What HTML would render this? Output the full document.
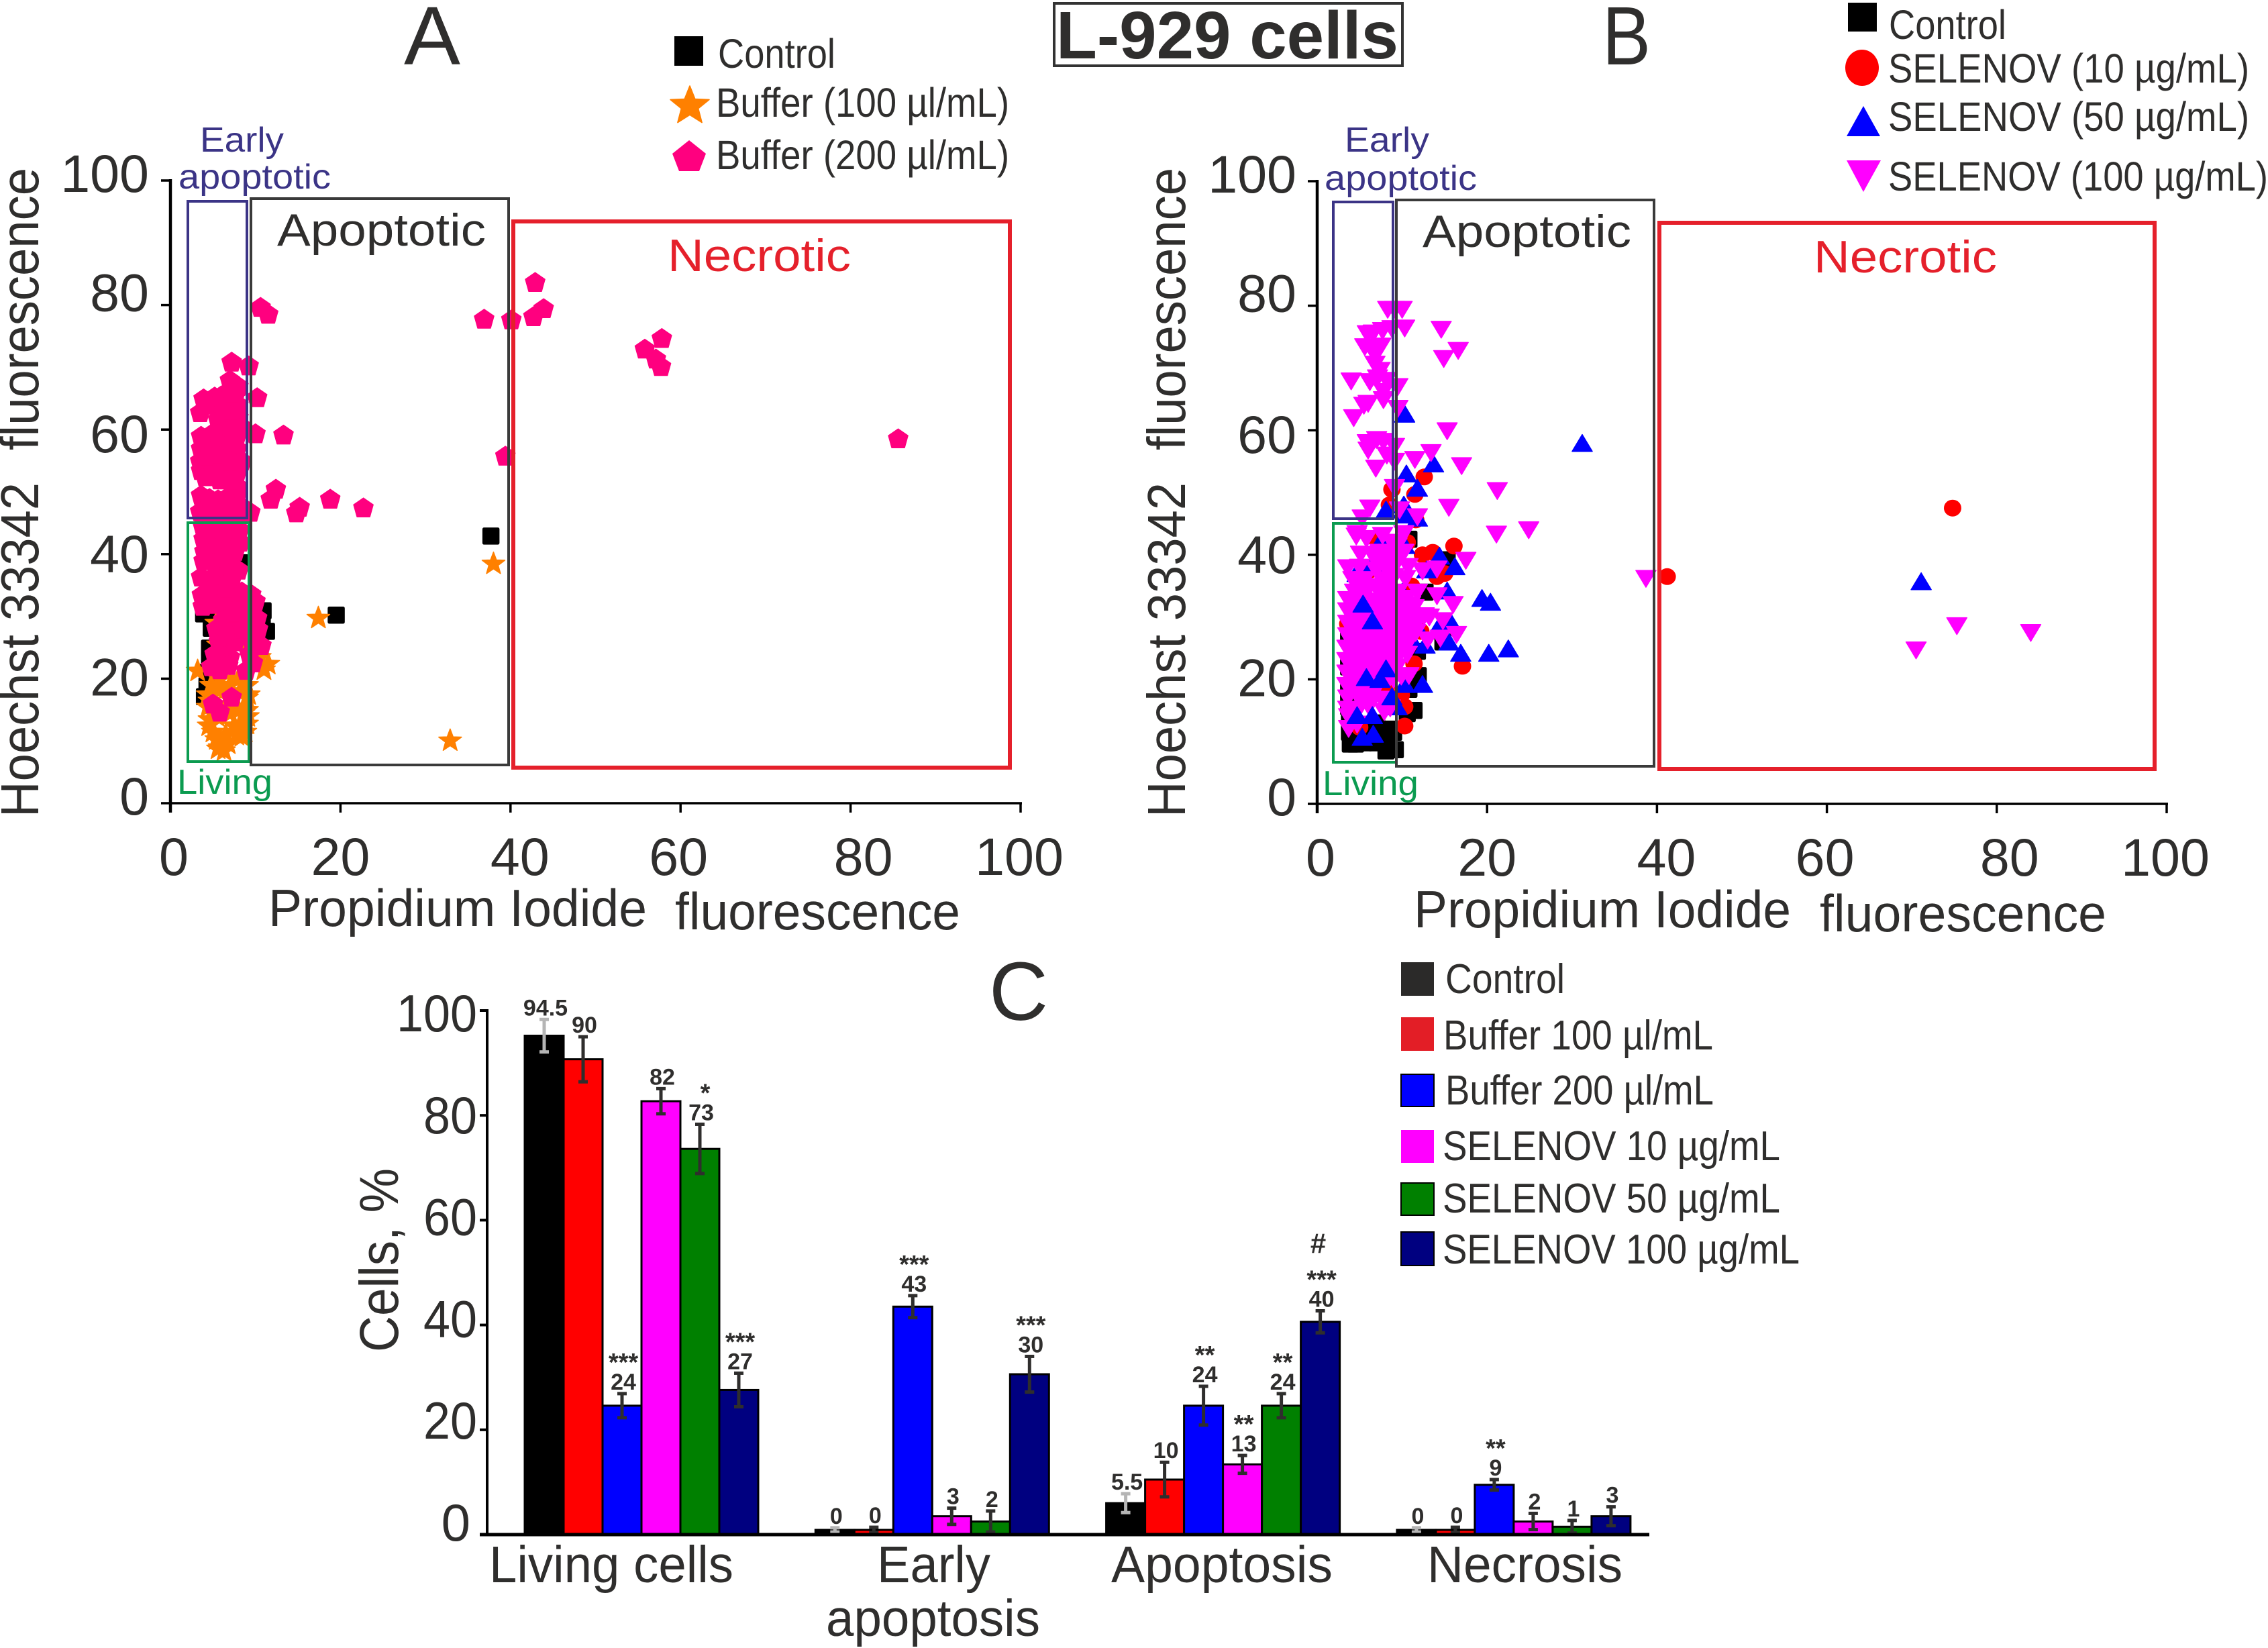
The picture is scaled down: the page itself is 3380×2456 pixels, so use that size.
<!DOCTYPE html>
<html lang="en">
<head>
<meta charset="utf-8">
<title>L-929 cells apoptosis charts</title>
<style>
html,body{margin:0;padding:0;background:#fff}
svg{display:block;font-family:"Liberation Sans",Arial,sans-serif}
text{fill:#2f2e2d}
</style>
</head>
<body>
<svg id="figure" xmlns="http://www.w3.org/2000/svg" width="3380" height="2456" viewBox="0 0 3380 2456">
<rect width="3380" height="2456" fill="#fff"/>
<g id="marksA"></g>
<g id="marksB"></g>

<!-- Gates chart A -->
<rect x="280" y="300" width="88" height="472" fill="none" stroke="#3b3486" stroke-width="4"/>
<rect x="280" y="779" width="91" height="356" fill="none" stroke="#0b9b50" stroke-width="4"/>
<rect x="374" y="296" width="384" height="844" fill="none" stroke="#3a3a3a" stroke-width="4"/>
<rect x="765" y="330" width="740" height="814" fill="none" stroke="#e5202b" stroke-width="6"/>
<!-- Gates chart B -->
<rect x="1987" y="301" width="89" height="472" fill="none" stroke="#3b3486" stroke-width="4"/>
<rect x="1987" y="780" width="94" height="356" fill="none" stroke="#0b9b50" stroke-width="4"/>
<rect x="2081" y="298" width="384" height="844" fill="none" stroke="#3a3a3a" stroke-width="4"/>
<rect x="2473" y="332" width="738" height="814" fill="none" stroke="#e5202b" stroke-width="6"/>

<g id="axesA"></g>
<g id="axesB"></g>
<g id="barsC"></g>
<g id="axesC"></g>

<!-- Titles -->
<text x="602" y="96" font-size="123" textLength="84" lengthAdjust="spacingAndGlyphs">A</text>
<text x="2388" y="96" font-size="123" textLength="72" lengthAdjust="spacingAndGlyphs">B</text>
<text x="1474" y="1520" font-size="123" textLength="88" lengthAdjust="spacingAndGlyphs">C</text>
<rect x="1571" y="5" width="519" height="93" fill="none" stroke="#333" stroke-width="4"/>
<text x="1574" y="87" font-size="100" font-weight="bold" textLength="510" lengthAdjust="spacingAndGlyphs">L-929 cells</text>

<!-- Legend A -->
<rect x="1005" y="54" width="43" height="44" fill="#000"/>
<text x="1070" y="101" font-size="61" textLength="175" lengthAdjust="spacingAndGlyphs">Control</text>
<path transform="translate(1028,157) scale(1.7)" d="M0,-17 L4.6,-5.5 L17,-5 L7.4,2.8 L10.6,15 L0,8.3 L-10.6,15 L-7.4,2.8 L-17,-5 L-4.6,-5.5 Z" fill="#ff8000" stroke="#ff8000" stroke-width="1" stroke-linejoin="round"/>
<text x="1067" y="174" font-size="61" textLength="437" lengthAdjust="spacingAndGlyphs">Buffer (100 µl/mL)</text>
<path transform="translate(1027,232)" d="M0,-23 L25,-3 L15,23 L-15,23 L-25,-3 Z" fill="#ff007f"/>
<text x="1067" y="252" font-size="61" textLength="437" lengthAdjust="spacingAndGlyphs">Buffer (200 µl/mL)</text>

<!-- Legend B -->
<rect x="2754" y="4" width="43" height="43" fill="#000"/>
<text x="2815" y="58" font-size="61" textLength="175" lengthAdjust="spacingAndGlyphs">Control</text>
<ellipse cx="2775" cy="101" rx="25" ry="27" fill="#f00"/>
<text x="2814" y="123" font-size="61" textLength="538" lengthAdjust="spacingAndGlyphs">SELENOV (10 µg/mL)</text>
<path d="M2777,158 L2802,203 L2752,203 Z" fill="#00f"/>
<text x="2814" y="195" font-size="61" textLength="538" lengthAdjust="spacingAndGlyphs">SELENOV (50 µg/mL)</text>
<path d="M2752,239 L2803,239 L2777,286 Z" fill="#f0f"/>
<text x="2814" y="284" font-size="61" textLength="566" lengthAdjust="spacingAndGlyphs">SELENOV (100 µg/mL)</text>

<!-- Gate labels A -->
<text x="298" y="226" font-size="52" style="fill:#3b3486" textLength="125" lengthAdjust="spacingAndGlyphs">Early</text>
<text x="266" y="281" font-size="52" style="fill:#3b3486" textLength="227" lengthAdjust="spacingAndGlyphs">apoptotic</text>
<text x="413" y="366" font-size="68" textLength="311" lengthAdjust="spacingAndGlyphs">Apoptotic</text>
<text x="995" y="404" font-size="68" style="fill:#e5202b" textLength="273" lengthAdjust="spacingAndGlyphs">Necrotic</text>
<text x="264" y="1183" font-size="52" style="fill:#0b9b50" textLength="142" lengthAdjust="spacingAndGlyphs">Living</text>
<!-- Gate labels B -->
<text x="2004" y="226" font-size="52" style="fill:#3b3486" textLength="126" lengthAdjust="spacingAndGlyphs">Early</text>
<text x="1974" y="283" font-size="52" style="fill:#3b3486" textLength="227" lengthAdjust="spacingAndGlyphs">apoptotic</text>
<text x="2120" y="368" font-size="68" textLength="311" lengthAdjust="spacingAndGlyphs">Apoptotic</text>
<text x="2703" y="406" font-size="68" style="fill:#e5202b" textLength="273" lengthAdjust="spacingAndGlyphs">Necrotic</text>
<text x="1971" y="1185" font-size="52" style="fill:#0b9b50" textLength="143" lengthAdjust="spacingAndGlyphs">Living</text>

<!-- Axis titles -->
<text transform="translate(57,1218) rotate(-90)" font-size="80" textLength="499" lengthAdjust="spacingAndGlyphs">Hoechst 33342</text>
<text transform="translate(57,671) rotate(-90)" font-size="80" textLength="421" lengthAdjust="spacingAndGlyphs">fluorescence</text>
<text x="400" y="1380" font-size="78" textLength="564" lengthAdjust="spacingAndGlyphs">Propidium Iodide</text>
<text x="1006" y="1385" font-size="78" textLength="425" lengthAdjust="spacingAndGlyphs">fluorescence</text>
<text transform="translate(1766,1218) rotate(-90)" font-size="80" textLength="499" lengthAdjust="spacingAndGlyphs">Hoechst 33342</text>
<text transform="translate(1766,671) rotate(-90)" font-size="80" textLength="421" lengthAdjust="spacingAndGlyphs">fluorescence</text>
<text x="2107" y="1382" font-size="78" textLength="562" lengthAdjust="spacingAndGlyphs">Propidium Iodide</text>
<text x="2712" y="1388" font-size="78" textLength="427" lengthAdjust="spacingAndGlyphs">fluorescence</text>
<text transform="translate(593,2015) rotate(-90)" font-size="82" textLength="274" lengthAdjust="spacingAndGlyphs">Cells, %</text>

<!-- Category labels -->
<text x="729" y="2358" font-size="77" textLength="364" lengthAdjust="spacingAndGlyphs">Living cells</text>
<text x="1307" y="2358" font-size="77" textLength="169" lengthAdjust="spacingAndGlyphs">Early</text>
<text x="1231" y="2438" font-size="77" textLength="319" lengthAdjust="spacingAndGlyphs">apoptosis</text>
<text x="1656" y="2358" font-size="77" textLength="330" lengthAdjust="spacingAndGlyphs">Apoptosis</text>
<text x="2127" y="2358" font-size="77" textLength="291" lengthAdjust="spacingAndGlyphs">Necrosis</text>

<!-- Legend C -->
<rect x="2088" y="1434" width="49" height="50" fill="#2b2a29"/>
<text x="2154" y="1480" font-size="62" textLength="178" lengthAdjust="spacingAndGlyphs">Control</text>
<rect x="2088" y="1516" width="49" height="50" fill="#e31e26"/>
<text x="2151" y="1564" font-size="62" textLength="402" lengthAdjust="spacingAndGlyphs">Buffer 100 µl/mL</text>
<rect x="2088" y="1601" width="49" height="48" fill="#00f" stroke="#000" stroke-width="2"/>
<text x="2154" y="1646" font-size="62" textLength="400" lengthAdjust="spacingAndGlyphs">Buffer 200 µl/mL</text>
<rect x="2088" y="1684" width="49" height="49" fill="#f0f"/>
<text x="2150" y="1729" font-size="62" textLength="503" lengthAdjust="spacingAndGlyphs">SELENOV 10 µg/mL</text>
<rect x="2088" y="1763" width="49" height="48" fill="#008000" stroke="#000" stroke-width="2"/>
<text x="2150" y="1807" font-size="62" textLength="503" lengthAdjust="spacingAndGlyphs">SELENOV 50 µg/mL</text>
<rect x="2088" y="1836" width="49" height="50" fill="#000080" stroke="#000" stroke-width="2"/>
<text x="2150" y="1883" font-size="62" textLength="532" lengthAdjust="spacingAndGlyphs">SELENOV 100 µg/mL</text>
</svg>

<script>
// ---- Scatter tick labels ----
const xTicks = [0, 20, 40, 60, 80, 100];
const yTicks = [0, 20, 40, 60, 80, 100];

// ---- Panel A series: [propidium iodide, hoechst] ----
const controlA = [[37.7,42.9],[19.5,30.2],[10.9,30.9],[8.2,38.6],[4,33],[3.9,30.4],[4.8,28.1],[4.6,24.9],[4.3,18.9],[4,17.1],[11.3,27.6],[8.6,33],[7.5,34],[9,30],[5,30],[6,29],[9.5,27],[10.8,28.5],[8,27],[4.5,31],[4.4,21],[4.6,23]];
const buffer100A = [[17.4,29.8],[38,38.5],[32.9,10.1],[3.2,21.3],[11.5,22.4],[10.5,23.5],[11,21.5],[9,25.5],[8,28],[5.6,25.5],[6,36],[5.4,29],[4.8,19],[6,18.5],[7,19],[8,20],[9,19],[5.8,20],[9.2,17.5],[8.2,18],[6.8,17],[9,17],[9,15],[9.1,14],[9,12.8],[8.8,11.5],[8.6,14.5],[8,15],[7,14.5],[7.5,12.5],[8.4,12],[8.4,10.8],[7.8,11],[6.5,11],[4.4,15.5],[4.6,13.5],[4.5,12.5],[5,11.5],[5.5,14],[4.6,16.5],[4.4,17.5],[5.8,9],[6.3,8.5],[5.6,8.8],[6.8,9.6],[6.2,10],[5.4,10.3],[8,11.5]];
const buffer200A = [[10.6,79.7],[11.5,78.6],[42.9,83.7],[36.9,77.8],[40.1,77.7],[42.7,78.2],[43.9,79.5],[57.8,74.7],[55.8,73],[57.1,71.4],[57.7,70.2],[85.6,58.6],[39.4,55.8],[7.2,70.9],[9.2,70.3],[10.2,65.2],[10,59.4],[13.3,59.2],[12.4,50.5],[11.8,48.9],[15.2,47.6],[14.8,46.7],[18.8,48.9],[22.7,47.5],[9.4,46.8],
[7,68],[8,67],[3.9,65],[5.2,65.3],[6,65.5],[3.5,62.8],[4.4,64],[6.6,64.5],[7.5,65],[8,64],[5.6,61.7],[6.8,62],[8,62],[7.2,63],[8.4,60.5],[7.2,66],[6.2,63.3],
[3.6,59],[3.6,57],[3.5,55],[3.6,53.5],[4.1,52.5],[5,59.5],[5,57],[5,55],[5.2,53],[6.4,60],[6.4,58],[6.4,56],[6.4,54],[6.5,52],[7.8,59],[7.8,57],[8.4,55],[7.8,53],[7.8,51],[7.9,50],[4.3,58],[4.3,55.8],[5.7,58],[5.7,56],[7.1,60],[7.1,57.6],[7.1,55],[5.8,52],[7.1,52],
[3.6,49.5],[5.6,48.8],[6.5,49],[7.8,47.6],[3.5,46.9],[4.8,47],[6.2,46.5],[8.6,47.5],[4.6,49],[7,47.8],
[3.8,44.6],[5,45],[6.2,44.5],[7.5,45],[8.1,44],[3.9,42.5],[5.1,43],[6.3,42.5],[7.5,42.5],[8.2,42],[4,40.5],[5.2,41],[6.4,40.8],[7.6,40.5],[3.9,39],[5.4,39],[6.8,38.8],[4.6,40],[6,39.5],
[3.6,36.4],[5.5,36.6],[8,37.5],[6.7,37],[4.6,36],[7.2,36],[3.8,31.7],[3.7,33.5],[5.5,33.6],[7.3,33],[9.5,33.6],[4.9,32],[6.3,32],[5.5,35],[6.6,34.5],[8.4,32],[10,32.5],[4.6,34.4],[8.4,34],
[8.6,29.8],[10.2,29.8],[5.4,28.1],[7.3,28.6],[6.2,29.5],[9.5,28],[10.3,28],[6.5,26],[10.7,25.4],[5.7,26],[7.6,26],[9.6,26],[7.5,30.6],[9.2,31],[6.5,27.5],[8.5,28],
[4.8,22],[5.8,21.5],[8.9,21.4],[9.7,22.6],[6,24],[7,23.5],[5.2,24],[9.3,24],[6.8,22.2],[5,16],[5.8,14.7],[7.2,17.1]];

// ---- Panel B series: [propidium iodide, hoechst] ----
const controlB = [[3.9,9.6],[4.5,9.6],[5.5,9.8],[7,9.8],[8.1,8.5],[9.2,8.7],[3.8,11.5],[8,11],[3.7,26.7],[3.7,22],[3.7,15.6],[3.8,13],[11.4,15],[10.6,14.5],[11.9,20.6],[15.3,39.2],[10.8,42.5],[12.7,34],[14.8,26],[11.8,24.5],[10.8,18.4],[5,28],[6,12],[6.2,10.2],[5,11],[7.2,11.5],[8.3,10],[8.5,12],[9,11.5],[3.7,18],[3.8,28.8],[4.6,12.5],[7,13]];
const selenov10B = [[74.8,47.5],[41.2,36.5],[12.6,52.5],[11.5,49.7],[8.8,50.5],[8.5,48],[11.6,45.6],[16.1,41.4],[12.4,40],[13.6,40.4],[14.1,36.5],[15,37],[10.6,42],[17.1,22.1],[11.4,22.5],[10.3,15.6],[10.3,12.5],[9.9,17.5],[8.2,19],[6.3,37.6],[6.9,42.6],[11.1,35],[11.6,30.5],[12.2,27.7],[5,12.3],[3.6,28.9],[8.2,16.2]];
const selenov50B = [[31.2,57.9],[71.1,35.7],[10.3,62.6],[13.7,54.6],[10.5,53],[11.8,50.7],[8.1,47.2],[10.2,48],[10.3,46.4],[11.8,45.9],[14.4,39.8],[16.2,38.1],[12.9,37.6],[15.3,34.2],[19.4,33],[20.4,32.4],[15.8,29],[14.2,28.2],[11.6,28.8],[12.7,25.5],[15.5,26],[16.9,24.2],[20.2,24.2],[22.5,24.9],[12.4,19.2],[10.3,19.2],[6.6,38.5],[5.1,38.1],[4.7,37],[7.5,42.2],[10.3,41.5],[10,34],[11.1,26.4],[9.4,15.6]];
const selenov100B = [[14.6,76.2],[16.6,72.8],[14.9,71.5],[15.3,59.9],[11.5,55.3],[13.4,56.4],[17,54.3],[21.2,50.3],[15.5,47.6],[21.1,43.3],[24.9,44],[17.5,39.1],[14.1,33.4],[16,32],[38.7,36.2],[75.3,28.6],[84,27.5],[70.5,24.7],
[9.1,79.4],[8.3,79.4],[10,79.4],[10.3,76.4],[7.7,76],[6.6,75.6],[5.9,75.5],[8.8,76.3],[5.6,73.4],[6.9,72.2],[6.4,73],[7.5,73.5],[6.8,70.6],[4,67.9],[7.1,68.4],[7.8,66.2],[9.5,67],[6.2,67.8],[7.4,69.6],[5.5,64],[6,64.3],[4.3,62],[7.8,64.9],[9.5,63.5],[8.2,68],[5.9,58],[7.8,58.2],[6,56.8],[6.9,53.9],[8.2,56],[9.1,57.4],[7,58.5],[9.1,55],[9.1,50.8],[6.2,47.5],[5.3,45.9],[9.7,47.2],[11.8,46.1],[4.6,43],
[7.7,43.1],[10.2,43.4],[5.8,42.6],[3.6,37.9],[5.1,40.1],[4.7,43.4],[8.2,37.6],[10.2,40.4],[10.7,38.1],[12.4,37.4],[14.1,37.7],[11.8,34],[4.7,34.9],[6.9,34.9],[9,36.5],[6.9,37.6],[8.3,40.4],[6.5,40],[9.6,39.2],[10.4,36.2],[8,34.5],[9.5,34],
[13.2,30],[14.8,29.4],[13,26.3],[14.5,26.6],[16.4,27.2],[11.6,27.5],[10.8,20.6],[9.2,23.8],[12.6,30.2],[12,29.5],[11.4,31.5],
[3.6,32.8],[4.9,33.2],[6.2,32.6],[7.7,33.1],[9.1,32.7],[10.5,33],
[3.6,31],[5,30.7],[6.4,31.2],[7.8,30.8],[9.2,31],[10.6,30.6],
[3.6,29],[4.8,29.3],[6.2,28.8],[7.6,29.1],[9,28.9],[10.4,29.2],
[3.6,27],[4.7,26.8],[6.1,27.2],[7.5,26.9],[8.9,27.1],[10.2,26.7],
[3.5,25],[4.6,25.2],[6,24.8],[7.4,25],[8.8,25.1],[10,24.7],
[3.5,23],[4.7,22.8],[6.1,23.2],[7.5,22.9],[8.9,23],
[3.5,21],[4.6,21.2],[6,20.9],[7.7,21.3],[9,20],[9.9,20.5],
[3.5,19],[4.7,18.8],[6.1,19.2],[3.6,17],[4.8,17.2],[6.3,17],[7.6,16.8],
[3.7,14],[3.7,12.1],[4.7,12.8],[7.9,14.8],[6.1,15.6],[3.6,15.2],[4.8,15],[8.6,15.4],
[4.4,34],[5.8,34],[7.2,34.2],[8.6,33.8],
[4.2,32],[5.6,32],[7,32],[8.4,32],[9.8,32],[11,32],
[4.3,30],[5.7,30],[7.1,30],[8.5,30],[9.9,30],[11.2,30],
[4.1,28],[5.5,28],[6.9,28],[8.3,28],[9.7,28],[11,28],
[4,26],[5.4,26],[6.8,26],[8.2,26],[9.6,26],[10.8,26],
[4,24],[5.4,24],[6.8,24],[8.2,24],[9.5,24],[10.6,24],
[4,22],[5.4,22],[6.8,22],[8.2,22],[9.4,22],
[4,20],[5.4,20],[6.7,20],[8.6,20.4],
[4,18],[5.4,18],[6.8,18.2],
[4.2,36],[5.6,36],[7.6,36],[8.6,35.4],
[5,38],[7.4,38.6],[8.8,38.4],[7.4,40.4],[9.4,41.4],[8.8,42]];
const selenov50Top = [[6.6,11.2],[5.3,10.7],[8.1,21.7],[7.4,20],[5.8,20.3],[8.8,17.2],[6.5,14.2],[4.7,14.2],[5.4,32.1],[6.5,29.4]];

// ---- Panel C categories, values, spreads, printed labels ----
const categories = ["Living cells", "Early apoptosis", "Apoptosis", "Necrosis"];
const cTicks = [0, 20, 40, 60, 80, 100];
const controlValues = [95.2, 0.9, 6, 0.9];
const buffer100Values = [90.7, 0.9, 10.5, 0.9];
const buffer200Values = [24.6, 43.5, 24.6, 9.5];
const selenov10Values = [82.7, 3.5, 13.4, 2.5];
const selenov50Values = [73.6, 2.5, 24.6, 1.5];
const selenov100Values = [27.6, 30.6, 40.6, 3.5];
const controlErrors = [3.1, 0.4, 1.8, 0.4];
const buffer100Errors = [4.3, 0.5, 3.3, 0.5];
const buffer200Errors = [2.3, 2.1, 3.7, 1];
const selenov10Errors = [2.4, 1.55, 1.7, 1.55];
const selenov50Errors = [4.7, 2, 2.3, 1.2];
const selenov100Errors = [3.2, 3.4, 2.1, 1.8];
const controlLabels = ["94.5", "0", "5.5", "0"];
const buffer100Labels = ["90", "0", "10", "0"];
const buffer200Labels = ["24", "43", "24", "9"];
const selenov10Labels = ["82", "3", "13", "2"];
const selenov50Labels = ["73", "2", "24", "1"];
const selenov100Labels = ["27", "30", "40", "3"];
const controlStars = ["", "", "", ""];
const buffer100Stars = ["", "", "", ""];
const buffer200Stars = ["***", "***", "**", "**"];
const selenov10Stars = ["", "", "**", ""];
const selenov50Stars = ["*", "", "**", ""];
const selenov100Stars = ["***", "***", "***", ""];
const selenov100Hash = ["", "", "#", ""];

const NS = "http://www.w3.org/2000/svg";
function mk(parent, tag, attrs, txt) {
  const el = document.createElementNS(NS, tag);
  for (const k in attrs) el.setAttribute(k, attrs[k]);
  if (txt !== undefined) el.textContent = txt;
  parent.appendChild(el);
  return el;
}

// Axis functions
function xA(v) { return 254 + v * 12.67; }
function yA(v) { return 1197 - v * 9.28; }
function xB(v) { return 1963 + v * 12.66; }
function yB(v) { return 1198 - v * 9.28; }
function yC(v) { return 2287 - v * 7.81; }
function groupX(i) { return 782 + i * 433.3; }
const barW = 58;

// Marker shapes relative to the point centre
const shapes = {
  square: "M-10,-12 H10 Q12,-12 12,-10 V10 Q12,12 10,12 H-10 Q-12,12 -12,10 V-10 Q-12,-12 -10,-12 Z",
  star: "M0,-17 L4.4,-5.2 L17,-4.8 L7,2.8 L10.4,15 L0,8 L-10.4,15 L-7,2.8 L-17,-4.8 L-4.4,-5.2 Z",
  pentagon: "M0,-14 L14.5,-4 L9.5,14 L-9.5,14 L-14.5,-4 Z",
  up: "M0,-13 L15,12 L-15,12 Z",
  down: "M-15,-12 L15,-12 L0,13 Z"
};

function plot(layer, series, shape, fill, sx, sy, name) {
  series.forEach(function (p) {
    let m;
    if (shape === "circle") {
      m = mk(layer, "ellipse", { cx: sx(p[0]), cy: sy(p[1]), rx: 13, ry: 12.5, fill: fill });
    } else {
      m = mk(layer, "path", { d: shapes[shape], transform: "translate(" + sx(p[0]) + "," + sy(p[1]) + ")", fill: fill, stroke: fill, "stroke-width": 1.5, "stroke-linejoin": "round" });
    }
    
    
  });
}

const marksA = document.getElementById("marksA");
plot(marksA, controlA, "square", "#000", xA, yA, "a-control-point");
plot(marksA, buffer100A, "star", "#ff8000", xA, yA, "a-buffer-100-point");
plot(marksA, buffer200A, "pentagon", "#ff007f", xA, yA, "a-buffer-200-point");

const marksB = document.getElementById("marksB");
plot(marksB, controlB, "square", "#000", xB, yB, "b-control-point");
plot(marksB, selenov10B, "circle", "#f00", xB, yB, "b-selenov-10-point");
plot(marksB, selenov50B, "up", "#00f", xB, yB, "b-selenov-50-point");
plot(marksB, selenov100B, "down", "#f0f", xB, yB, "b-selenov-100-point");
plot(marksB, selenov50Top, "up", "#00f", xB, yB, "b-selenov-50-point");

// Scatter axes
function scatterAxes(layer, sx, sy, yLabelRight, xBase, prefix) {
  const yNudge = { 100: 17, 80: 9, 60: 34, 40: 27, 20: 25, 0: 17 };
  const xNudge = { 0: 5, 20: 0, 40: 14, 60: -3, 80: 19, 100: -2 };
  const yAxis = mk(layer, "line", { x1: sx(0), x2: sx(0), y1: sy(100) - 2, y2: sy(0) + 14, stroke: "#000", "stroke-width": 4.5 });
  
  
  const xAxis = mk(layer, "line", { x1: sx(0), x2: sx(100) + 2, y1: sy(0), y2: sy(0), stroke: "#000", "stroke-width": 3.5 });
  
  
  yTicks.forEach(function (t) {
    const tick = mk(layer, "line", { x1: sx(0) - 14, x2: sx(0), y1: sy(t), y2: sy(t), stroke: "#000", "stroke-width": 3.5 });
    
    
    const lab = mk(layer, "text", { x: yLabelRight, y: sy(t) + yNudge[t], "font-size": 79, "text-anchor": "end" }, String(t));
    
    
  });
  xTicks.forEach(function (t) {
    const tick = mk(layer, "line", { x1: sx(t), x2: sx(t), y1: sy(0), y2: sy(0) + 14, stroke: "#000", "stroke-width": 3.5 });
    
    
    const lab = mk(layer, "text", { x: sx(t) + xNudge[t], y: xBase, "font-size": 79, "text-anchor": "middle" }, String(t));
    
    
  });
}
scatterAxes(document.getElementById("axesA"), xA, yA, 222, 1304, "a");
scatterAxes(document.getElementById("axesB"), xB, yB, 1932, 1305, "b");

// Bar chart
const barSeries = [
  { name: "control", fill: "#000", values: controlValues, errors: controlErrors, labels: controlLabels, stars: controlStars, err: "#b5b5b5" },
  { name: "buffer-100", fill: "#f00", values: buffer100Values, errors: buffer100Errors, labels: buffer100Labels, stars: buffer100Stars, err: "#2f2e2d" },
  { name: "buffer-200", fill: "#00f", values: buffer200Values, errors: buffer200Errors, labels: buffer200Labels, stars: buffer200Stars, err: "#2f2e2d" },
  { name: "selenov-10", fill: "#f0f", values: selenov10Values, errors: selenov10Errors, labels: selenov10Labels, stars: selenov10Stars, err: "#2f2e2d" },
  { name: "selenov-50", fill: "#008000", values: selenov50Values, errors: selenov50Errors, labels: selenov50Labels, stars: selenov50Stars, err: "#2f2e2d" },
  { name: "selenov-100", fill: "#000080", values: selenov100Values, errors: selenov100Errors, labels: selenov100Labels, stars: selenov100Stars, err: "#2f2e2d" }
];
const barsC = document.getElementById("barsC");
barSeries.forEach(function (s, j) {
  s.values.forEach(function (v, i) {
    const x = groupX(i) + j * barW;
    const bar = mk(barsC, "rect", { x: x, y: yC(v), width: barW, height: yC(0) - yC(v), fill: s.fill, stroke: "#000", "stroke-width": 3 });
    
    
  });
});
barSeries.forEach(function (s, j) {
  s.values.forEach(function (v, i) {
    const cx = groupX(i) + j * barW + barW / 2;
    const top = yC(v + s.errors[i]);
    const bottom = Math.min(yC(v - s.errors[i]), yC(0));
    const stem = mk(barsC, "line", { x1: cx, x2: cx, y1: top, y2: bottom, stroke: s.err, "stroke-width": 5 });
    
    
    const capTop = mk(barsC, "line", { x1: cx - 7, x2: cx + 7, y1: top, y2: top, stroke: s.err, "stroke-width": 5 });
    
    
    const capBottom = mk(barsC, "line", { x1: cx - 7, x2: cx + 7, y1: bottom, y2: bottom, stroke: s.err, "stroke-width": 5 });
    
    
    const base = top - 6;
    const lab = mk(barsC, "text", { x: cx + 2, y: base, "font-size": 34, "font-weight": "bold", "text-anchor": "middle" }, s.labels[i]);
    
    
    if (s.stars[i]) {
      const st = mk(barsC, "text", { x: cx + (s.stars[i] === "*" ? 8 : 2), y: base - 28, "font-size": 38, "font-weight": "bold", "text-anchor": "middle" }, s.stars[i]);
      
      
    }
    if (j === 5 && selenov100Hash[i]) {
      const h = mk(barsC, "text", { x: cx - 3, y: base - 80, "font-size": 42, "font-weight": "bold", "text-anchor": "middle" }, selenov100Hash[i]);
      
      
    }
  });
});

// Bar chart axes
const axesC = document.getElementById("axesC");
const cY = mk(axesC, "line", { x1: 726, x2: 726, y1: yC(100) - 2, y2: yC(0), stroke: "#000", "stroke-width": 4 });


const cX = mk(axesC, "line", { x1: 715, x2: 2458, y1: yC(0), y2: yC(0), stroke: "#000", "stroke-width": 5 });


cTicks.forEach(function (t) {
  const tick = mk(axesC, "line", { x1: 715, x2: 726, y1: yC(t), y2: yC(t), stroke: "#000", "stroke-width": 4 });
  
  
  const digits = String(t).length;
  const labAttrs = { x: t === 0 ? 701 : 711, y: yC(t) + 9 + t * 0.22, "font-size": 78, "text-anchor": "end" };
  if (t !== 0) {
    labAttrs.textLength = digits * 40;
    labAttrs.lengthAdjust = "spacingAndGlyphs";
  }
  const lab = mk(axesC, "text", labAttrs, String(t));
  
  
});
</script>
</body>
</html>
